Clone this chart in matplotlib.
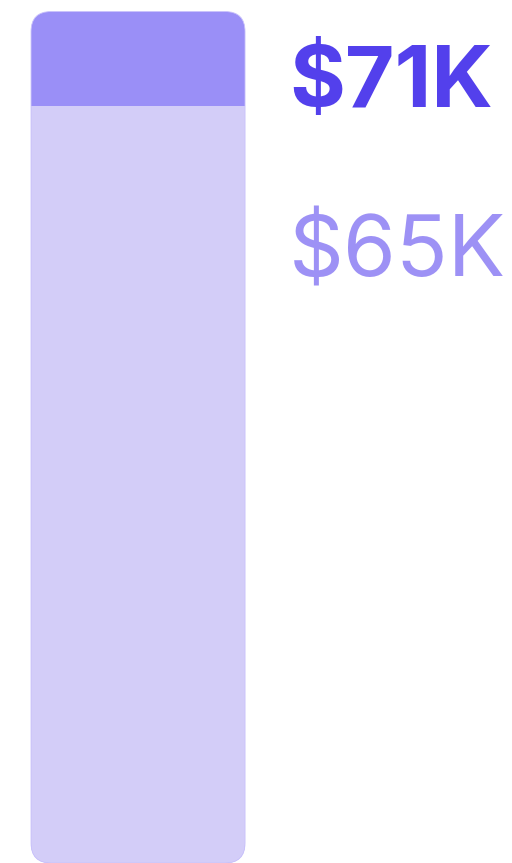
import matplotlib
matplotlib.use("Agg")
from matplotlib import pyplot as plt
from matplotlib.patches import FancyBboxPatch, Rectangle

# データ
categories = ["Salary"]
total_values = [71]      # $K, 上の濃い部分まで
base_values = [65]       # $K, 薄い部分
labels = ["$71K", "$65K"]

axis_min = 17.15
axis_max = 71.73

W, H, DPI = 512, 863, 100
fig = plt.figure(figsize=(W / DPI, H / DPI), dpi=DPI)
ax = fig.add_axes([0, 0, 1, 1])
ax.set_xlim(-0.516, 1.398)
ax.set_ylim(axis_min, axis_max)
ax.axis("off")

px_x = W / (1.398 + 0.516)
px_y = H / (axis_max - axis_min)
radius_px = 20

bars_total = ax.bar(range(len(categories)), [t - axis_min for t in total_values],
                    width=0.8, bottom=axis_min)
bars_base = ax.bar(range(len(categories)), [b - axis_min for b in base_values],
                   width=0.8, bottom=axis_min)

for rt, rb in zip(bars_total, bars_base):
    x, y = rt.get_x(), rt.get_y()
    w, h = rt.get_width(), rt.get_height()
    rt.remove()
    outer = FancyBboxPatch((x, y), w, h,
                           boxstyle=f"round,pad=0,rounding_size={radius_px / px_x}",
                           mutation_aspect=px_x / px_y,
                           facecolor="#9a8ff7", edgecolor="none", zorder=2)
    ax.add_patch(outer)
    bx, by = rb.get_x(), rb.get_y()
    bw, bh = rb.get_width(), rb.get_height()
    rb.remove()
    inner = Rectangle((bx, by), bw, bh, facecolor="#d3cdf8", edgecolor="none", zorder=3)
    ax.add_patch(inner)
    inner.set_clip_path(outer)
    edge = FancyBboxPatch((x, y), w, h,
                          boxstyle=f"round,pad=0,rounding_size={radius_px / px_x}",
                          mutation_aspect=px_x / px_y,
                          facecolor="none", edgecolor="#c9c2fb", linewidth=0.6, zorder=4)
    ax.add_patch(edge)

# ラベル
fig.text(289 / W, 1 - 107 / H, labels[0], fontsize=61.5, fontweight="bold",
         family=["Inter", "DejaVu Sans"], color="#5340ec", va="baseline", ha="left")
fig.text(289 / W, 1 - 277 / H, labels[1], fontsize=61.5,
         family=["Inter", "DejaVu Sans"], color="#9d91f5", va="baseline", ha="left")

fig.savefig("out.png", dpi=DPI, facecolor="white")
